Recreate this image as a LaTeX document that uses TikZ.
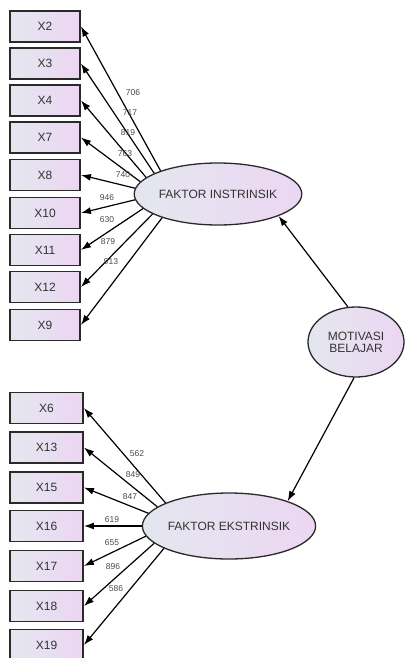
\documentclass[tikz,border=0pt]{standalone}
\usepackage{fontspec}
\setmainfont{Liberation Sans}
\usetikzlibrary{shapes.geometric,arrows.meta}
\definecolor{fillL}{HTML}{E4E7EF}
\definecolor{fillR}{HTML}{ECD6F2}
\definecolor{txt}{HTML}{333333}
\definecolor{lbl}{HTML}{4A4A4A}
\definecolor{edge}{HTML}{2A2A2A}
\tikzset{
  obs/.style={draw=edge,line width=1.9pt,rectangle,left color=fillL,right color=fillR,
    minimum height=31pt,inner sep=0pt,text=txt,font=\fontsize{12}{13}\selectfont},
  obsA/.style={obs,minimum width=70pt},
  obsB/.style={obs,minimum width=73pt},
  lat/.style={draw=edge,line width=1.3pt,ellipse,left color=fillL,right color=fillR,
    inner sep=0pt,text=txt,font=\fontsize{12}{13}\selectfont,align=center},
  arr/.style={draw=black,line width=1.2pt,-{Latex[length=10pt,width=7pt]}},
  wt/.style={text=lbl,font=\fontsize{8.5}{9}\selectfont,inner sep=0pt}
}
\begin{document}
\begin{tikzpicture}[x=1pt,y=-1pt]
\useasboundingbox[fill=white] (0,0) rectangle (406,658);
% top observed
\node[obsA] (x2)  at (45,26.5) {X2};
\node[obsA] (x3)  at (45,63.5) {X3};
\node[obsA] (x4)  at (45,100.5) {X4};
\node[obsA] (x7)  at (45,137.5) {X7};
\node[obsA] (x8)  at (45,175) {X8};
\node[obsA] (x10) at (45,213) {X10};
\node[obsA] (x11) at (45,250) {X11};
\node[obsA] (x12) at (45,287) {X12};
\node[obsA] (x9)  at (45,325) {X9};
% bottom observed
\node[obsB] (x6)  at (46.5,408) {X6};
\node[obsB] (x13) at (46.5,447.5) {X13};
\node[obsB] (x15) at (46.5,487.5) {X15};
\node[obsB] (x16) at (46.5,526) {X16};
\node[obsB] (x17) at (46.5,566) {X17};
\node[obsB] (x18) at (46.5,606) {X18};
\node[obsB] (x19) at (46.5,645) {X19};
% latent
\node[lat,minimum width=136pt,minimum height=62pt] (fi) at (218,194) {FAKTOR INSTRINSIK};
\node[lat,minimum width=142pt,minimum height=66pt] (fe) at (229,526) {FAKTOR EKSTRINSIK};
\node[lat,minimum width=96pt,minimum height=70pt] (mb) at (356,342) {MOTIVASI\\[-1pt]BELAJAR};
% structural
\draw[arr] (mb.103) -- (fi.340);
\draw[arr] (mb.267) -- (fe.23);
% loadings top
\draw[arr] (fi.158) -- (x2.east);
\draw[arr] (fi.162) -- (x3.east);
\draw[arr] (fi.167) -- (x4.east);
\draw[arr] (fi.171) -- (x7.east);
\draw[arr] (fi.176) -- (x8.east);
\draw[arr] (fi.184) -- (x10.east);
\draw[arr] (fi.191) -- (x11.east);
\draw[arr] (fi.197) -- (x12.east);
\draw[arr] (fi.203) -- (x9.east);
% loadings bottom
\draw[arr] (fe.160) -- (x6.east);
\draw[arr] (fe.165) -- (x13.east);
\draw[arr] (fe.171) -- (x15.east);
\draw[arr] (fe.180) -- (x16.east);
\draw[arr] (fe.187) -- (x17.east);
\draw[arr] (fe.193.6) -- (x18.east);
\draw[arr] (fe.199) -- (x19.east);
% weights top
\node[wt] (w1) at (133,93) {706};
\node[wt] (w2) at (130,113) {717};
\node[wt] (w3) at (128,133) {819};
\node[wt] (w4) at (125,154) {763};
\node[wt] (w5) at (123,175) {740};
\node[wt] (w6) at (107,198) {946};
\node[wt] (w7) at (107,220) {630};
\node[wt] (w8) at (108,242) {879};
\node[wt] (w9) at (111,262) {913};
% weights bottom
\node[wt] (v1) at (137,454) {562};
\node[wt] (v2) at (133,475) {849};
\node[wt] (v3) at (130,497) {847};
\node[wt] (v4) at (112,520) {619};
\node[wt] (v5) at (112,543) {655};
\node[wt] (v6) at (113,567) {896};
\node[wt] (v7) at (116,589) {586};
\end{tikzpicture}
\end{document}
